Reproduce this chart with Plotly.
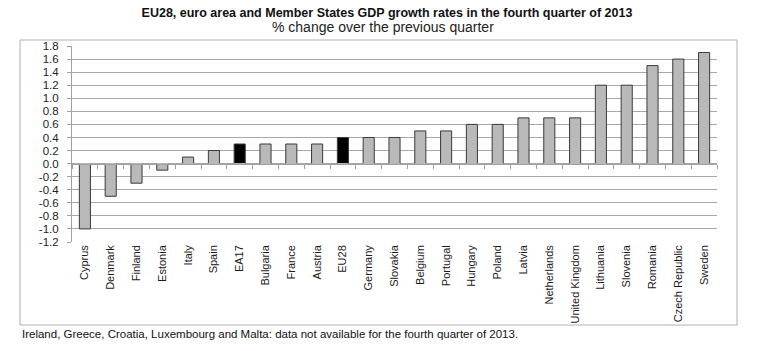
import plotly.graph_objects as go

categories = ["Cyprus", "Denmark", "Finland", "Estonia", "Italy", "Spain", "EA17",
              "Bulgaria", "France", "Austria", "EU28", "Germany", "Slovakia",
              "Belgium", "Portugal", "Hungary", "Poland", "Latvia", "Netherlands",
              "United Kingdom", "Lithuania", "Slovenia", "Romania", "Czech Republic", "Sweden"]
values = [-1.0, -0.5, -0.3, -0.1, 0.1, 0.2, 0.3, 0.3, 0.3, 0.3, 0.4, 0.4, 0.4,
          0.5, 0.5, 0.6, 0.6, 0.7, 0.7, 0.7, 1.2, 1.2, 1.5, 1.6, 1.7]
aggregates = ["EA17", "EU28"]
y_ticks = [round(-1.2 + 0.2 * i, 1) for i in range(16)]
y_ticktext = [f"{v:.1f}" for v in y_ticks]

colors = ["#000000" if c in aggregates else "#b9b9b9" for c in categories]

W, H = 774, 351
L, R, T, B = 72, 717, 46, 242

def px_x(x):
    return (x - L) / (R - L)

def px_y(y):
    return (B - y) / (B - T)

fig = go.Figure()
fig.add_trace(go.Bar(x=categories, y=values, marker=dict(color=colors,
                     line=dict(color="#3a3a3a", width=1)), width=0.43,
                     hoverinfo="x+y"))
# invisible trace for zero-line category axis ticks
fig.add_trace(go.Bar(x=categories, y=[0] * len(categories), xaxis="x2",
                     marker=dict(color="rgba(0,0,0,0)"), showlegend=False, hoverinfo="skip"))

lab_font = dict(family="Liberation Sans Narrow, Arial Narrow, Liberation Sans, sans-serif",
                size=11, color="#1a1a1a")

fig.update_layout(
    width=W, height=H,
    margin=dict(l=L, r=W - R, t=T, b=H - B),
    paper_bgcolor="white", plot_bgcolor="white",
    showlegend=False, barmode="overlay",
    title=dict(text="<b>EU28, euro area and Member States GDP growth rates in the fourth quarter of 2013</b>",
               x=0.5, xanchor="center", xref="container",
               y=1 - 13 / H, yanchor="middle", yref="container",
               font=dict(family="Liberation Sans, Arial, sans-serif", size=12.5, color="#111111")),
    xaxis=dict(type="category", categoryorder="array", categoryarray=categories,
               range=[-0.5, len(categories) - 0.5],
               showgrid=False, showline=False, ticks="", tickangle=-90,
               tickfont=lab_font, zeroline=False, fixedrange=True),
    xaxis2=dict(type="category", categoryorder="array", categoryarray=categories,
                range=[-0.5, len(categories) - 0.5],
                overlaying="x", anchor="free", position=(0 - (-1.2)) / 3.0,
                showticklabels=False, ticks="outside", ticklen=4, tickcolor="#a0a0a0",
                tickson="boundaries", showline=True, linecolor="#a0a0a0", linewidth=1,
                showgrid=False, zeroline=False),
    yaxis=dict(range=[-1.2, 1.8], tickvals=y_ticks, ticktext=y_ticktext,
               showgrid=True, gridcolor="#a8a8a8", gridwidth=1,
               zeroline=False, showline=True, linecolor="#a0a0a0", linewidth=1,
               ticks="outside", ticklen=4, tickcolor="#a0a0a0", ticklabelstandoff=6,
               tickfont=dict(family="Liberation Sans, Arial, sans-serif", size=11.5, color="#222222"),
               fixedrange=True),
    bargap=0.57,
)

fig.add_annotation(text="% change over the previous quarter", xref="paper", yref="paper",
                   x=px_x(383), y=px_y(27), xanchor="center", yanchor="middle",
                   showarrow=False,
                   font=dict(family="Liberation Sans, Arial, sans-serif", size=14, color="#222222"))
fig.add_annotation(text="Ireland, Greece, Croatia, Luxembourg and Malta: data not available for the fourth quarter of 2013.",
                   xref="paper", yref="paper", x=px_x(20), y=px_y(334), xanchor="left", yanchor="middle",
                   showarrow=False,
                   font=dict(family="Liberation Sans, Arial, sans-serif", size=11.5, color="#111111"))
fig.add_shape(type="rect", xref="paper", yref="paper",
              x0=px_x(20), x1=px_x(737), y0=px_y(325), y1=px_y(40),
              line=dict(color="#b0b0b0", width=1), fillcolor="rgba(0,0,0,0)", layer="below")

fig.write_html("out.html")
